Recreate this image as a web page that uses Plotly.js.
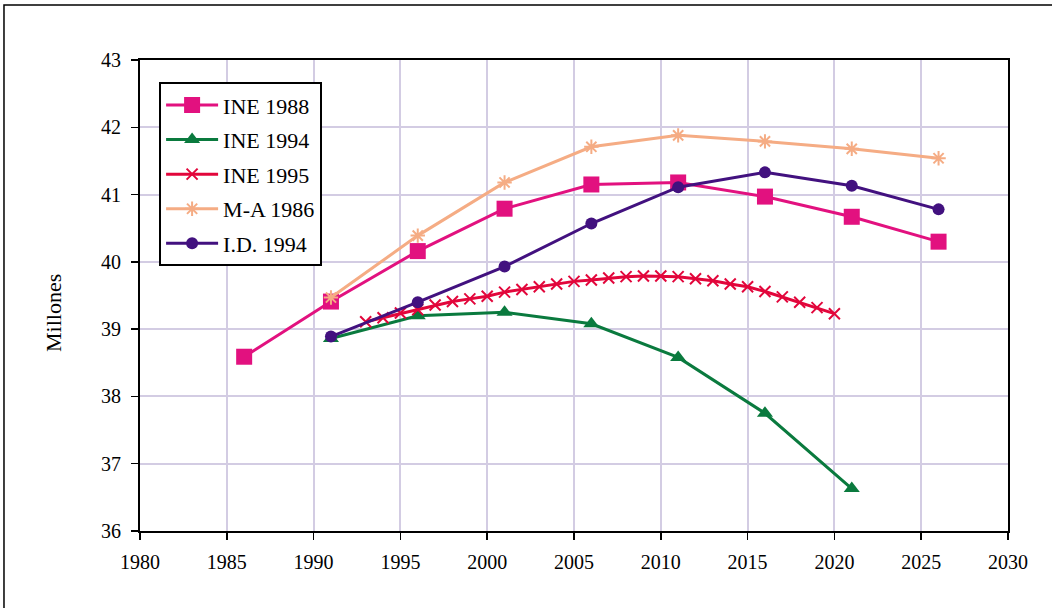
<!DOCTYPE html>
<html><head><meta charset="utf-8">
<script src="https://cdn.plot.ly/plotly-3.0.1.min.js"></script>
<style>html,body{margin:0;padding:0;background:#fff}#c{width:1052px;height:608px}</style>
</head><body><div id="c"></div>
<script>
const yearsQuin = [1986, 1991, 1996, 2001, 2006, 2011, 2016, 2021, 2026];
const ine1988 = [38.59, 39.41, 40.16, 40.79, 41.15, 41.18, 40.97, 40.67, 40.30];
const yearsIne1994 = [1991, 1996, 2001, 2006, 2011, 2016, 2021];
const ine1994 = [38.86, 39.20, 39.25, 39.08, 38.58, 37.75, 36.63];
const yearsIne1995 = [1993,1994,1995,1996,1997,1998,1999,2000,2001,2002,2003,2004,2005,2006,2007,2008,2009,2010,2011,2012,2013,2014,2015,2016,2017,2018,2019,2020];
const ine1995 = [39.11,39.17,39.24,39.29,39.36,39.41,39.45,39.49,39.55,39.59,39.63,39.67,39.71,39.73,39.76,39.78,39.79,39.79,39.78,39.75,39.72,39.67,39.63,39.56,39.48,39.40,39.32,39.23];
const yearsMA = [1991, 1996, 2001, 2006, 2011, 2016, 2021, 2026];
const ma1986 = [39.47, 40.39, 41.18, 41.71, 41.88, 41.79, 41.68, 41.54];
const yearsID = [1991, 1996, 2001, 2006, 2011, 2016, 2021, 2026];
const id1994 = [38.89, 39.40, 39.93, 40.57, 41.11, 41.33, 41.13, 40.78];
const xTicks = [1980,1985,1990,1995,2000,2005,2010,2015,2020,2025,2030];
const yTicks = [36,37,38,39,40,41,42,43];
const yTitle = 'Millones';

const font = 'Liberation Serif, Times New Roman, serif';
const traces = [
  {name:'INE 1988', x:yearsQuin, y:ine1988, color:'#E2117F', sym:'square', size:16},
  {name:'INE 1994', x:yearsIne1994, y:ine1994, color:'#0A7A3E', sym:'triangle-up', size:14},
  {name:'INE 1995', x:yearsIne1995, y:ine1995, color:'#E2063B', sym:'x-thin', size:11},
  {name:'M-A 1986', x:yearsMA, y:ma1986, color:'#F5AC84', sym:'asterisk', size:12},
  {name:'I.D. 1994', x:yearsID, y:id1994, color:'#42117F', sym:'circle', size:12}
].map((t,i)=>({
  type:'scatter', mode:'lines+markers', name:t.name, x:t.x, y:t.y, legendgroup:'g'+i,
  line:{color:t.color, width:3},
  marker:{color:t.color, symbol:t.sym, size:t.size, line:{color:t.color, width:(t.sym==='x-thin'||t.sym==='asterisk')?2:0}}
}));

const layout = {
  width:1052, height:608,
  margin:{l:140, r:44, t:60, b:77},
  paper_bgcolor:'#fff', plot_bgcolor:'#fff',
  font:{family:font, size:20, color:'#000'},
  showlegend:true,
  legend:{x:0.022, y:0.953, xanchor:'left', yanchor:'top', bgcolor:'#fff', bordercolor:'#000', borderwidth:2,
          font:{family:font, size:22, color:'#000'}, tracegroupgap:3, itemwidth:52},
  xaxis:{range:[1980,2030], tickvals:xTicks, ticktext:xTicks.map(String), showgrid:true, gridcolor:'#D3CCE3', gridwidth:2,
         showline:true, linecolor:'#000', linewidth:2, mirror:true, ticks:'outside', ticklen:7, tickcolor:'#000', tickwidth:1.5,
         ticklabelstandoff:5, zeroline:false, tickfont:{family:font, size:20}},
  yaxis:{range:[36,43], tickvals:yTicks, ticktext:yTicks.map(String), showgrid:true, gridcolor:'#D3CCE3', gridwidth:2,
         showline:true, linecolor:'#000', linewidth:2, mirror:true, ticks:'outside', ticklen:7, tickcolor:'#000', tickwidth:1.5,
         ticklabelstandoff:6, zeroline:false, tickfont:{family:font, size:20}},
  annotations:[{text:yTitle, xref:'paper', yref:'paper', x:-0.099, y:0.463, xanchor:'center', yanchor:'middle',
                textangle:-90, showarrow:false, font:{family:font, size:22, color:'#000'}}],
  shapes:[{type:'rect', xref:'paper', yref:'paper', x0:-0.1567, x1:1.3, y0:-0.4, y1:1.1168, line:{color:'#000', width:1.5}, fillcolor:'rgba(0,0,0,0)'}]
};
Plotly.newPlot('c', traces, layout, {displayModeBar:false, staticPlot:true});
</script></body></html>
